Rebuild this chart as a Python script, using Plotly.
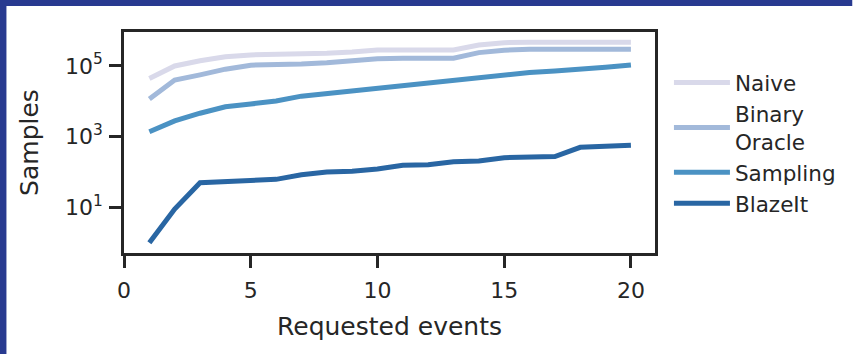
import plotly.graph_objects as go

events = list(range(1, 21))
naive = [44000, 100000, 140000, 183000, 205000, 209000, 218000, 228000, 248000, 284000,
         284000, 284000, 284000, 390000, 455000, 470000, 470000, 470000, 470000, 470000]
binary_oracle = [11700, 40000, 56000, 81000, 105000, 107000, 114000, 124000, 139000, 160000,
                 165000, 165000, 165000, 238000, 278000, 295000, 295000, 295000, 295000, 295000]
sampling = [1380, 2800, 4600, 7000, 8400, 10200, 14000, 16600, 21000, 25000,
            30000, 34000, 42000, 49000, 57000, 65000, 72000, 79000, 92000, 107000]
blazeit = [1, 9, 50, 54, 60, 62, 84, 100, 105, 122,
           155, 160, 195, 205, 255, 270, 275, 500, 535, 575]

series_names = ["Naive", "Binary<br>Oracle", "Sampling", "BlazeIt"]
series_values = [naive, binary_oracle, sampling, blazeit]
colors = ["#d9d9ea", "#a2b9da", "#4b92c3", "#2966a3"]

x_ticks = [0, 5, 10, 15, 20]
y_tickvals = [10, 1000, 100000]
y_ticktext = ["10<sup>1</sup>", "10<sup>3</sup>", "10<sup>5</sup>"]

FONT = "DejaVu Sans"
INK = "#262626"

fig = go.Figure()
for name, vals, col in zip(series_names, series_values, colors):
    fig.add_trace(go.Scatter(x=events, y=vals, mode="lines", name=name,
                             line=dict(color=col, width=5)))

W, H = 853, 354
L, R, T, B = 124, 196, 32, 101
pw, ph = W - L - R, H - T - B

def px(x):
    return (x - L) / pw

def py(y):
    return (H - B - y) / ph

border = "#283a90"
fig.add_shape(type="rect", xref="paper", yref="paper",
              x0=px(-2), x1=px(6), y0=py(H + 2), y1=py(-2),
              fillcolor=border, line_width=0, layer="above")
fig.add_shape(type="rect", xref="paper", yref="paper",
              x0=px(-2), x1=px(W + 2), y0=py(6), y1=py(-2),
              fillcolor=border, line_width=0, layer="above")

fig.update_layout(
    width=W, height=H,
    margin=dict(l=L, r=R, t=T, b=B),
    paper_bgcolor="white", plot_bgcolor="white",
    font=dict(family=FONT, color=INK),
    showlegend=True,
    legend=dict(x=px(671), y=py(62), xanchor="left", yanchor="top",
                font=dict(size=21.5, family=FONT, color=INK),
                bgcolor="rgba(0,0,0,0)", tracegroupgap=0, itemwidth=56),
    xaxis=dict(range=[0, 20.95], tickvals=x_ticks, showgrid=False, zeroline=False,
               showline=True, linecolor=INK, linewidth=2.5, mirror=True,
               ticks="outside", ticklen=12, tickwidth=2.5, tickcolor=INK,
               tickfont=dict(size=22), ticklabelstandoff=4,
               title=dict(text="Requested events", font=dict(size=25), standoff=16)),
    yaxis=dict(type="log", range=[-0.29, 5.96], tickvals=y_tickvals, ticktext=y_ticktext,
               showgrid=False, zeroline=False,
               showline=True, linecolor=INK, linewidth=2.5, mirror=True,
               ticks="outside", ticklen=12, tickwidth=2.5, tickcolor=INK,
               tickfont=dict(size=22), ticklabelstandoff=2,
               title=dict(text="Samples", font=dict(size=25), standoff=20)),
)

fig.write_html("out.html")
